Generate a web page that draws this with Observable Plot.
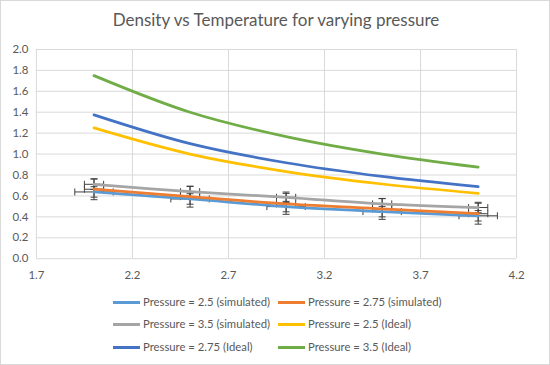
<!DOCTYPE html>
<html><head><meta charset="utf-8">
<script src="https://cdn.jsdelivr.net/npm/d3@7"></script>
<script src="https://cdn.jsdelivr.net/npm/@observablehq/plot@0.6"></script>
<style>
html,body{margin:0;padding:0;background:#fff;}
#wrap{position:relative;width:550px;height:365px;box-sizing:border-box;border:1px solid #d9d9d9;font-family:Lato,"Open Sans",sans-serif;color:#595959;overflow:hidden;}
#title{position:absolute;left:0;top:8px;width:550px;text-align:center;font-size:17px;color:#595959;}
#chart{position:absolute;left:-1px;top:39px;}
#legend{position:absolute;left:0;top:0;}
.li{position:absolute;font-size:11.3px;color:#595959;white-space:nowrap;line-height:14px;}
.sw{display:inline-block;width:27px;height:3px;vertical-align:middle;margin-right:3px;position:relative;top:-1px;}
</style></head><body>
<div id="wrap">
<div id="title">Density vs Temperature for varying pressure</div>
<div id="chart"></div>
<div id="legend"></div>
</div>
<script>
const temperature = [2, 2.5, 3, 3.5, 4];
const seriesNames = [
  "Pressure = 2.5 (simulated)", "Pressure = 2.75 (simulated)", "Pressure = 3.5 (simulated)",
  "Pressure = 2.5 (Ideal)", "Pressure = 2.75 (Ideal)", "Pressure = 3.5 (Ideal)"
];
const sim25 = [0.638, 0.571, 0.498, 0.450, 0.410];
const sim275 = [0.664, 0.593, 0.524, 0.476, 0.430];
const sim35 = [0.711, 0.641, 0.587, 0.524, 0.489];
const ideal25 = [1.25, 1.0, 0.833, 0.714, 0.625];
const ideal275 = [1.375, 1.1, 0.917, 0.786, 0.688];
const ideal35 = [1.75, 1.4, 1.167, 1.0, 0.875];
const seriesValues = [sim25, sim275, sim35, ideal25, ideal275, ideal35];
const colors = ["#5B9BD5", "#ED7D31", "#A5A5A5", "#FFC000", "#4472C4", "#70AD47"];
// error bar half-widths for the simulated series (x: temperature, y: density)
const errX = [0.1, 0.05, 0.05];
const errY = [0.05, 0.1, 0.05];
const xTicks = [1.7, 2.2, 2.7, 3.2, 3.7, 4.2];
const yTicks = [0, 0.2, 0.4, 0.6, 0.8, 1.0, 1.2, 1.4, 1.6, 1.8, 2.0];

const rows = [];
seriesNames.forEach((name, s) => {
  seriesValues[s].forEach((v, i) => rows.push({series: name, T: temperature[i], D: v, s}));
});
const errRows = rows.filter(r => r.s < 3).map(r => ({...r, ex: errX[r.s], ey: errY[r.s]}));

const hCap = {draw(ctx, size) { const r = Math.sqrt(size / Math.PI); ctx.moveTo(-r, 0); ctx.lineTo(r, 0); }};
const vCap = {draw(ctx, size) { const r = Math.sqrt(size / Math.PI); ctx.moveTo(0, -r); ctx.lineTo(0, r); }};
const ebColor = "#404040";

const plot = Plot.plot({
  width: 551,
  height: 246,
  marginTop: 9,
  marginLeft: 36,
  marginRight: 33,
  marginBottom: 27,
  style: {fontFamily: "Lato, 'Open Sans', sans-serif", fontSize: "11.5px", color: "#595959", background: "transparent"},
  x: {domain: [1.7, 4.2], ticks: xTicks, tickFormat: d3.format(".1f"), tickSize: 0, tickPadding: 12, label: null},
  y: {domain: [0, 2.0], ticks: yTicks, tickFormat: d3.format(".1f"), tickSize: 0, tickPadding: 8, label: null},
  color: {domain: seriesNames, range: colors},
  marks: [
    Plot.ruleY(yTicks, {stroke: "#d9d9d9", strokeWidth: 1}),
    Plot.ruleX(xTicks, {stroke: "#d9d9d9", strokeWidth: 1}),
    // error bars
    Plot.link(errRows, {x1: d => d.T - d.ex, x2: d => d.T + d.ex, y1: "D", y2: "D", stroke: ebColor, strokeWidth: 1}),
    Plot.link(errRows, {x1: "T", x2: "T", y1: d => d.D - d.ey, y2: d => d.D + d.ey, stroke: ebColor, strokeWidth: 1}),
    Plot.dot(errRows, {x: d => d.T - d.ex, y: "D", symbol: vCap, r: 3.5, stroke: ebColor, strokeWidth: 1, fill: "none"}),
    Plot.dot(errRows, {x: d => d.T + d.ex, y: "D", symbol: vCap, r: 3.5, stroke: ebColor, strokeWidth: 1, fill: "none"}),
    Plot.dot(errRows, {x: "T", y: d => d.D - d.ey, symbol: hCap, r: 3.5, stroke: ebColor, strokeWidth: 1, fill: "none"}),
    Plot.dot(errRows, {x: "T", y: d => d.D + d.ey, symbol: hCap, r: 3.5, stroke: ebColor, strokeWidth: 1, fill: "none"}),
    Plot.line(rows, {x: "T", y: "D", z: "series", stroke: "series", strokeWidth: 2.75, curve: "catmull-rom", strokeLinecap: "round"})
  ]
});
document.getElementById("chart").appendChild(plot);

// legend
const leg = document.getElementById("legend");
const legendPos = [[112, 301], [277, 301], [112, 323], [277, 323], [112, 346], [277, 346]];
seriesNames.forEach((name, i) => {
  const d = document.createElement("div");
  d.className = "li";
  d.style.left = legendPos[i][0] + "px";
  d.style.top = (legendPos[i][1] - 7) + "px";
  d.innerHTML = `<span class="sw" style="background:${colors[i]}"></span>${name}`;
  leg.appendChild(d);
});
</script>
</body></html>
